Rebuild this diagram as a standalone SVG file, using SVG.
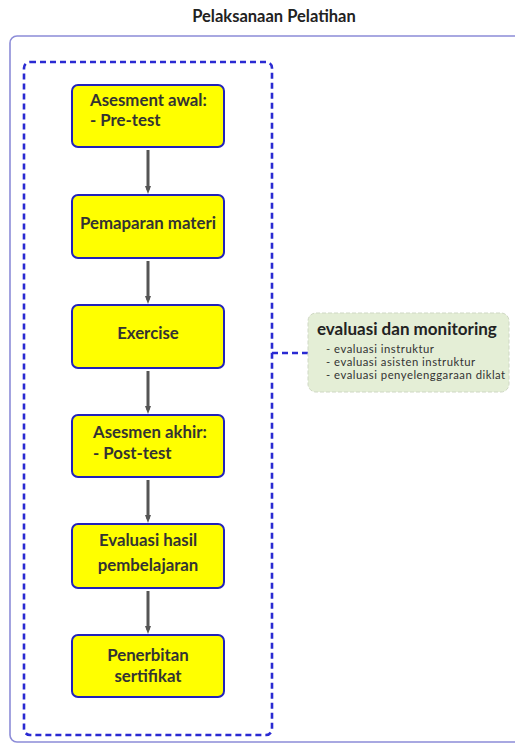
<svg xmlns="http://www.w3.org/2000/svg" width="515" height="744" viewBox="0 0 515 744">
  <defs>
    <marker id="arrowhead" markerWidth="8" markerHeight="8" refX="4" refY="4" orient="auto" markerUnits="userSpaceOnUse">
      <path d="M0,1 L8,4 L0,7 Z" fill="#555555"/>
    </marker>
    <style>
      .title { font-family: Lato, "Open Sans", sans-serif; font-weight: bold; font-size: 16.5px; fill: #222222; }
      .step rect { fill: #ffff00; stroke: #2222bb; stroke-width: 2; }
      .step text { font-family: Lato, "Open Sans", sans-serif; font-weight: bold; font-size: 16.8px; fill: #333333; }
      .flow line { stroke: #555555; stroke-width: 3; }
      .monitor-title { font-family: Lato, "Open Sans", sans-serif; font-weight: bold; font-size: 17px; fill: #222222; }
      .monitor-item { font-family: Lato, "Open Sans", sans-serif; font-size: 11.3px; letter-spacing: 0.5px; fill: #333333; }
    </style>
  </defs>

  <rect width="515" height="744" fill="#ffffff"/>

  <!-- heading -->
  <text class="title" x="274" y="22" text-anchor="middle">Pelaksanaan Pelatihan</text>

  <!-- outer frame, runs off the right and bottom edges -->
  <rect id="frame" x="10" y="36" width="520" height="706" rx="7" fill="none" stroke="#8c8cd8" stroke-width="1.6"/>

  <!-- dashed grouping of the training steps -->
  <rect id="training-group" x="24" y="62" width="248" height="673" rx="6" fill="none" stroke="#2a2ad2" stroke-width="2.6" stroke-dasharray="6 4"/>

  <!-- connectors -->
  <g id="connectors" class="flow">
    <line x1="148" y1="150" x2="148" y2="190" marker-end="url(#arrowhead)"/>
    <line x1="148" y1="261" x2="148" y2="300" marker-end="url(#arrowhead)"/>
    <line x1="148" y1="371" x2="148" y2="410" marker-end="url(#arrowhead)"/>
    <line x1="148" y1="480" x2="148" y2="519" marker-end="url(#arrowhead)"/>
    <line x1="148" y1="591" x2="148" y2="630" marker-end="url(#arrowhead)"/>
    <line x1="272" y1="353" x2="308" y2="353" style="stroke:#2a2ad2;stroke-width:2.4;stroke-dasharray:6 4"/>
  </g>

  <!-- steps -->
  <g id="step-pretest" class="step">
    <rect x="72" y="85" width="152" height="62" rx="6"/>
    <text x="90" y="106">Asesment awal:</text>
    <text x="90" y="126">- Pre-test</text>
  </g>
  <g id="step-materi" class="step">
    <rect x="72" y="195" width="152" height="63" rx="6"/>
    <text x="148" y="229" text-anchor="middle">Pemaparan materi</text>
  </g>
  <g id="step-exercise" class="step">
    <rect x="72" y="305" width="152" height="63" rx="6"/>
    <text x="148" y="339" text-anchor="middle">Exercise</text>
  </g>
  <g id="step-posttest" class="step">
    <rect x="72" y="415" width="152" height="62" rx="6"/>
    <text x="93" y="438">Asesmen akhir:</text>
    <text x="93" y="459">- Post-test</text>
  </g>
  <g id="step-evaluasi" class="step">
    <rect x="72" y="524" width="152" height="64" rx="6"/>
    <text x="148" y="546" text-anchor="middle">Evaluasi hasil</text>
    <text x="148" y="571" text-anchor="middle">pembelajaran</text>
  </g>
  <g id="step-sertifikat" class="step">
    <rect x="72" y="635" width="152" height="62" rx="6"/>
    <text x="148" y="661" text-anchor="middle">Penerbitan</text>
    <text x="148" y="682" text-anchor="middle">sertifikat</text>
  </g>

  <!-- monitoring note -->
  <g id="monitoring">
    <rect x="308" y="313" width="201" height="79" rx="8" fill="#e4eed6" stroke="#cfd8c4" stroke-width="1" stroke-dasharray="4 2"/>
    <text class="monitor-title" x="317" y="335">evaluasi dan monitoring</text>
    <text class="monitor-item" x="326" y="353">-  evaluasi instruktur</text>
    <text class="monitor-item" x="326" y="366">-  evaluasi asisten instruktur</text>
    <text class="monitor-item" x="326" y="379">-  evaluasi penyelenggaraan diklat</text>
  </g>
</svg>
